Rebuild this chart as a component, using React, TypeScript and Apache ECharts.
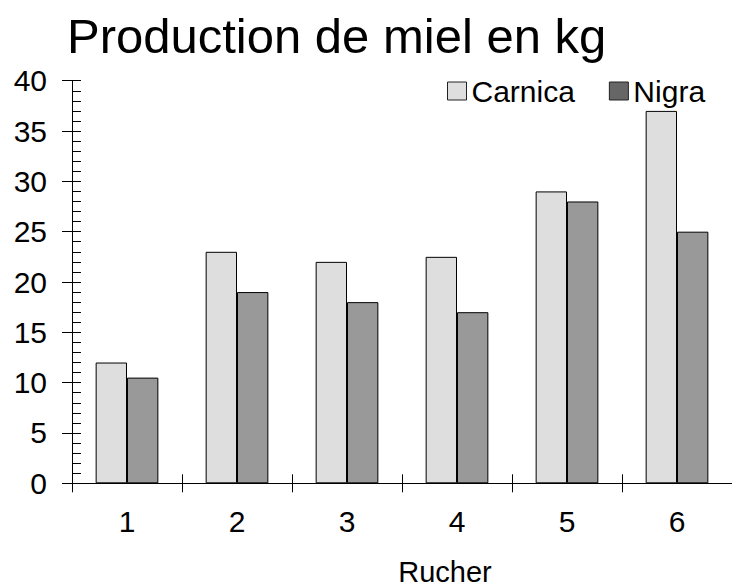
import React, { useEffect, useRef } from "react";
import * as echarts from "echarts";

const categories = ["1", "2", "3", "4", "5", "6"];
const carnica = [12, 23, 22, 22.5, 29, 37];
const nigra = [10.5, 19, 18, 17, 28, 25];
const titleText = "Production de miel en kg";
const xName = "Rucher";

const FONT = "'Liberation Sans', Arial, Helvetica, sans-serif";

export default function App() {
  const ref = useRef<HTMLDivElement>(null);
  useEffect(() => {
    if (!ref.current) return;
    const chart = echarts.init(ref.current, null, { renderer: "svg" });
    const axisLine = { show: true, lineStyle: { color: "#000", width: 1 } };
    chart.setOption({
      animation: false,
      backgroundColor: "#fff",
      textStyle: { fontFamily: FONT, color: "#000" },
      title: {
        text: titleText,
        left: 62,
        top: 6,
        textStyle: { fontFamily: FONT, fontSize: 49, fontWeight: "normal", color: "#000" },
      },
      legend: {
        left: 442,
        top: 71,
        icon: "rect",
        itemWidth: 19,
        itemHeight: 18,
        itemGap: 34,
        textStyle: { fontFamily: FONT, fontSize: 30, color: "#000" },
        itemStyle: { borderColor: "#222", borderWidth: 1 },
        data: [
          { name: "Carnica", itemStyle: { color: "#dedede" } },
          { name: "Nigra", itemStyle: { color: "#666666" } },
        ],
      },
      grid: { left: 72, width: 662, top: 80.7, bottom: 104.7, containLabel: false },
      xAxis: [
        {
          type: "category",
          data: categories,
          position: "bottom",
          boundaryGap: true,
          axisLine,
          axisTick: { show: true, inside: false, length: 9, lineStyle: { color: "#000" } },
          axisLabel: { fontFamily: FONT, fontSize: 30, color: "#000", margin: 23 },
          splitLine: { show: false },
        },
        {
          type: "category",
          data: categories,
          position: "bottom",
          boundaryGap: true,
          axisLine,
          axisTick: { show: true, inside: true, length: 9, lineStyle: { color: "#000" } },
          axisLabel: { show: false },
          splitLine: { show: false },
        },
      ],
      yAxis: [
        {
          type: "value",
          min: 0,
          max: 40,
          interval: 5,
          position: "left",
          axisLine,
          axisTick: { show: true, inside: false, length: 10, lineStyle: { color: "#000" } },
          axisLabel: { fontFamily: FONT, fontSize: 30, color: "#000", margin: 25 },
          splitLine: { show: false },
        },
        {
          type: "value",
          min: 0,
          max: 40,
          interval: 5,
          position: "left",
          axisLine,
          axisTick: { show: true, inside: true, length: 9, lineStyle: { color: "#000" } },
          minorTick: { show: true, splitNumber: 5, length: 9, lineStyle: { color: "#000" } },
          axisLabel: { show: false },
          splitLine: { show: false },
        },
      ],
      series: [
        {
          name: "Carnica",
          type: "bar",
          data: carnica,
          xAxisIndex: 0,
          yAxisIndex: 0,
          barGap: "0%",
          barCategoryGap: "43%",
          itemStyle: { color: "#dedede", borderColor: "#000", borderWidth: 1 },
        },
        {
          name: "Nigra",
          type: "bar",
          data: nigra,
          xAxisIndex: 0,
          yAxisIndex: 0,
          barGap: "0%",
          barCategoryGap: "43%",
          itemStyle: { color: "#999999", borderColor: "#000", borderWidth: 1 },
        },
      ],
      graphic: [
        {
          type: "text",
          x: 445,
          y: 572,
          style: {
            text: xName,
            fontFamily: FONT,
            fontSize: 29,
            fill: "#000",
            textAlign: "center",
            textVerticalAlign: "middle",
          },
        },
      ],
    });
    return () => chart.dispose();
  }, []);
  return (
    <div
      ref={ref}
      style={{ position: "absolute", left: 0, top: 0, width: 732, height: 588 }}
    />
  );
}
